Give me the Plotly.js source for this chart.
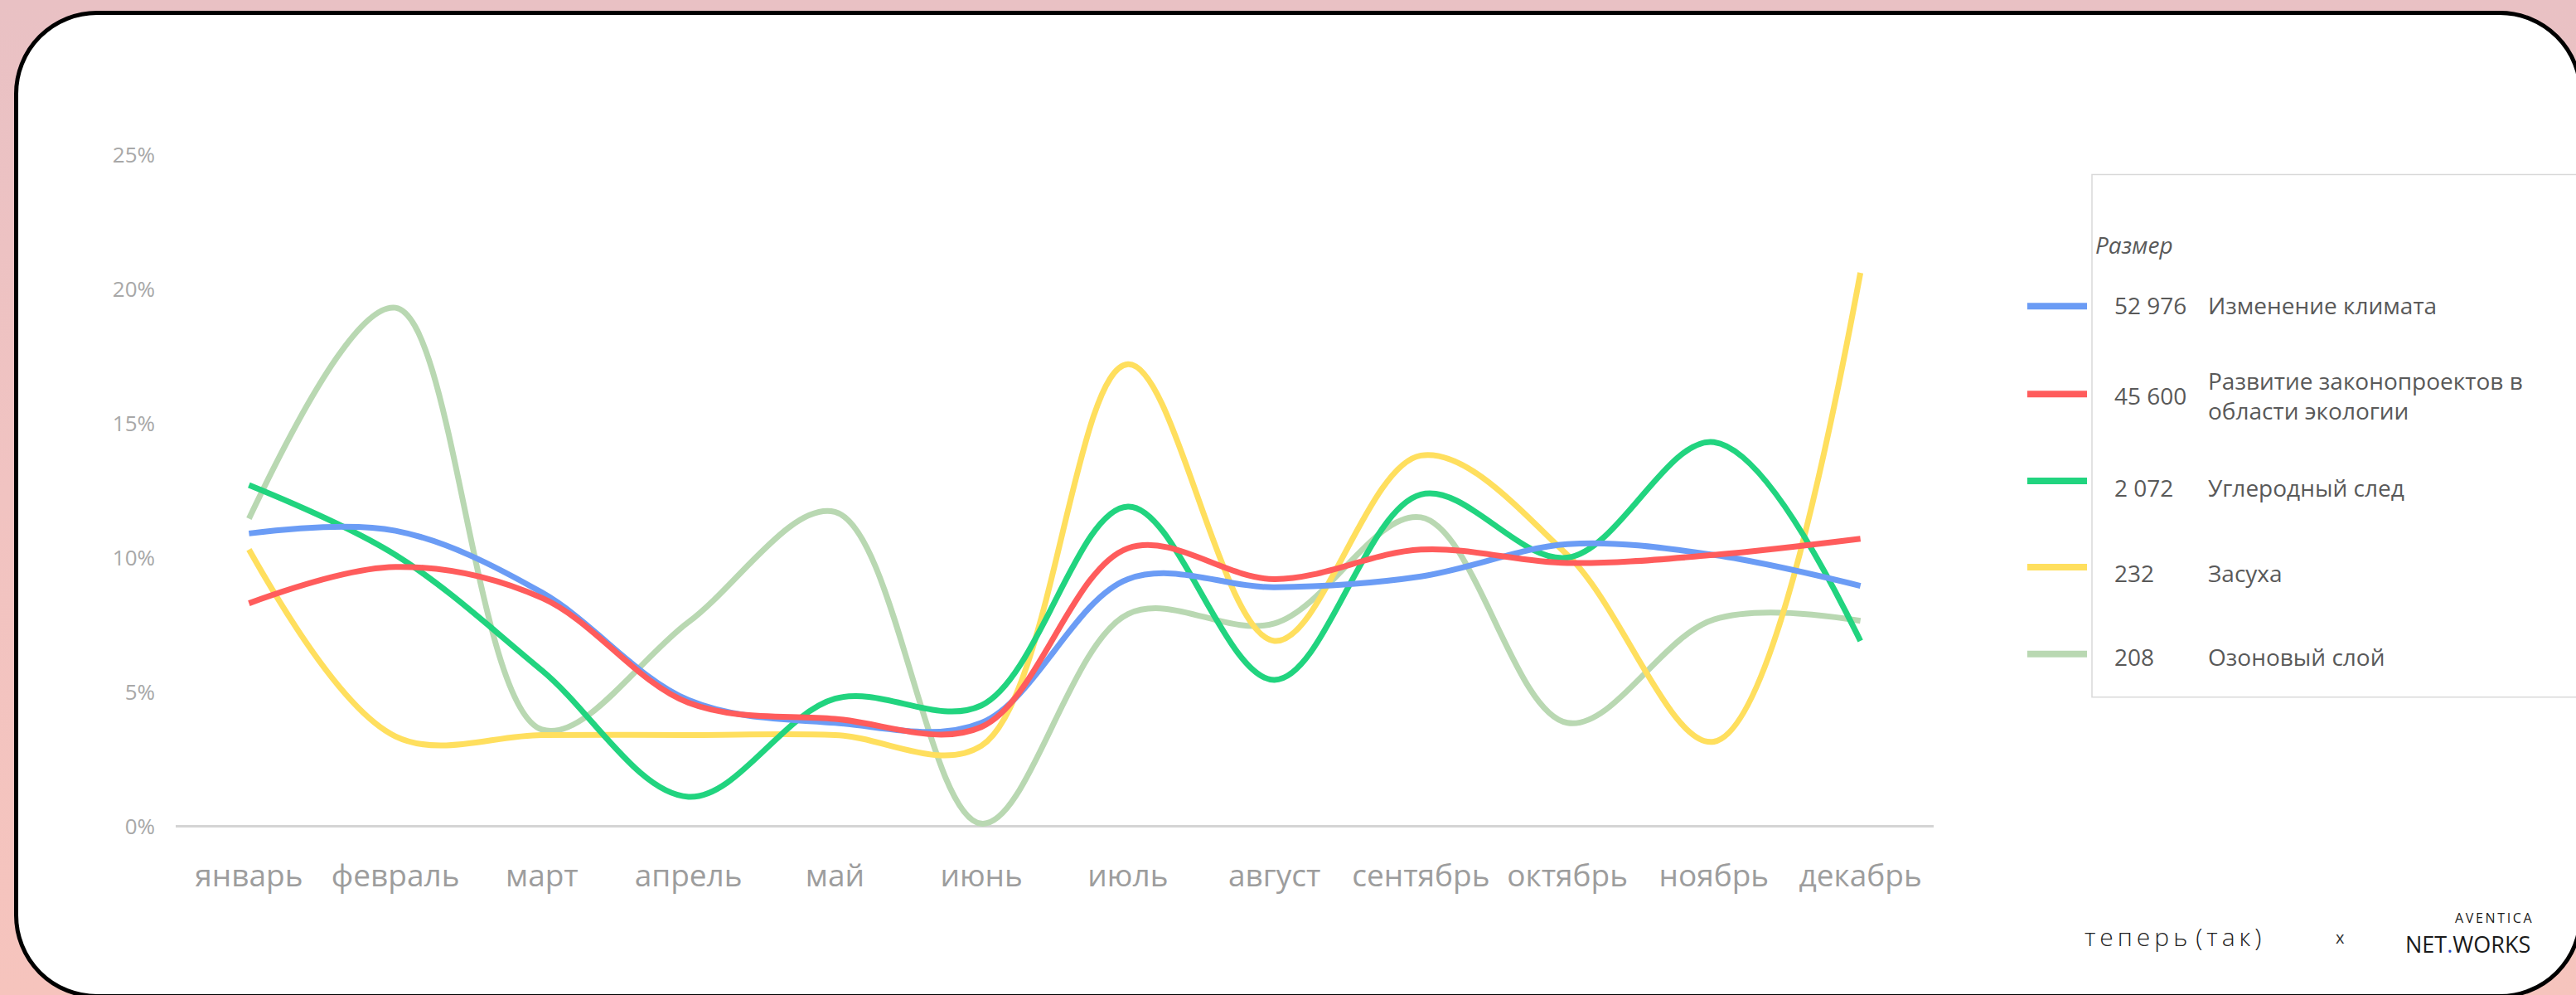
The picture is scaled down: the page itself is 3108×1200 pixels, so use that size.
<!DOCTYPE html>
<html>
<head>
<meta charset="utf-8">
<script src="https://cdn.plot.ly/plotly-3.0.1.min.js"></script>
<style>
  html, body { margin:0; padding:0; width:3108px; height:1200px; overflow:hidden;
    background: linear-gradient(180deg, #e9c1c4 0%, #f1c3c1 50%, #f6c4bd 100%); }
  #frame { position:absolute; left:17px; top:13px; width:3099px; height:1191px; box-sizing:border-box;
    border:5px solid #000; border-radius:100px; background:#fff; }
  #chart { position:absolute; left:0; top:0; width:3108px; height:1200px; }
</style>
</head>
<body>
<div id="frame"></div>
<div id="chart"></div>
<script>
// ---- data ----
const months = ['январь','февраль','март','апрель','май','июнь','июль','август','сентябрь','октябрь','ноябрь','декабрь'];
const seriesNames = ['Изменение климата', 'Развитие законопроектов в<br>области экологии', 'Углеродный след', 'Засуха', 'Озоновый слой'];
const seriesSizes = ['52 976', '45 600', '2 072', '232', '208'];
const climate = [10.9, 11.0, 8.7, 4.7, 3.85, 3.85, 9.2, 8.9, 9.3, 10.5, 10.1, 8.95];
const lawmaking = [8.3, 9.65, 8.5, 4.6, 4.0, 3.7, 10.35, 9.2, 10.3, 9.8, 10.1, 10.7];
const carbon = [12.7, 10.1, 5.8, 1.1, 4.75, 4.5, 11.9, 5.45, 12.35, 10.0, 14.3, 6.9];
const drought = [10.3, 3.35, 3.4, 3.4, 3.4, 3.0, 17.2, 6.9, 13.8, 10.1, 3.15, 20.6];
const ozone = [11.45, 19.3, 3.6, 7.6, 11.7, 0.1, 7.9, 7.55, 11.5, 3.85, 7.7, 7.65];
const yTicks = [0, 5, 10, 15, 20, 25];

// ---- styles ----
const colors = ['#6b9cf5', '#ff5c5c', '#21d47f', '#ffdf5e', '#b9d8b2'];
const allSeries = [climate, lawmaking, carbon, drought, ozone];

const W = 3108, H = 1200;
const L = 212, R = 2333, T = 153.5, B = 1029.5;
const px = x => (x - L) / (R - L);
const py = y => (B - y) / (B - T);

const traces = allSeries.map((vals, i) => ({
  type: 'scatter', mode: 'lines', x: months, y: vals,
  name: seriesNames[i].replace('<br>', ' '),
  line: { color: colors[i], width: 7, shape: 'spline', smoothing: 1 },
  hoverinfo: 'skip'
}));
const order = [4, 3, 2, 0, 1];
const data = order.map(i => traces[i]);

const legendTextColor = '#595959';
const legFont = { family: 'Open Sans, sans-serif', size: 28, color: legendTextColor };
const swatchY = [369, 475, 580, 684, 789];
const textY = [368, 477, 588, 691, 792];

const shapes = [{
  type: 'rect', xref: 'paper', yref: 'paper',
  x0: px(2524), x1: px(3140), y0: py(210), y1: py(841),
  line: { color: '#d9d9d9', width: 1.5 }, fillcolor: 'rgba(0,0,0,0)', layer: 'below'
}];
const annotations = [{
  xref: 'paper', yref: 'paper', x: px(2526), y: py(295), xanchor: 'left', yanchor: 'middle',
  text: '<i>Размер</i>', showarrow: false, font: legFont
}];
seriesNames.forEach((nm, i) => {
  shapes.push({ type: 'line', xref: 'paper', yref: 'paper',
    x0: px(2446), x1: px(2518), y0: py(swatchY[i]), y1: py(swatchY[i]),
    line: { color: colors[i], width: 8 } });
  annotations.push({ xref: 'paper', yref: 'paper', x: px(2549), y: py(textY[i]),
    xanchor: 'left', yanchor: 'middle', text: seriesSizes[i], showarrow: false, font: legFont });
  annotations.push({ xref: 'paper', yref: 'paper', x: px(2662), y: py(textY[i]),
    xanchor: 'left', yanchor: 'middle', align: 'left', text: nm, showarrow: false, font: legFont });
});

// logos
annotations.push({ xref: 'paper', yref: 'paper', x: px(2513), y: py(1130), xanchor: 'left', yanchor: 'middle',
  text: 'т\u2009е\u2009п\u2009е\u2009р\u2009ь\u2009\u2009(\u2009т\u2009а\u2009к\u2009)', showarrow: false,
  font: { family: 'Open Sans, sans-serif', size: 30, color: '#222', weight: 300 } });
annotations.push({ xref: 'paper', yref: 'paper', x: px(2823), y: py(1131), xanchor: 'center', yanchor: 'middle',
  text: 'x', showarrow: false, font: { family: 'Open Sans, sans-serif', size: 20, color: '#333' } });
annotations.push({ xref: 'paper', yref: 'paper', x: px(3057), y: py(1120), xanchor: 'right', yanchor: 'bottom',
  borderpad: 0,
  text: 'A\u2009V\u2009E\u2009N\u2009T\u2009I\u2009C\u2009A', showarrow: false,
  font: { family: 'Open Sans, sans-serif', size: 16, color: '#1a1a1a' } });
annotations.push({ xref: 'paper', yref: 'paper', x: px(3054), y: py(1120), xanchor: 'right', yanchor: 'top',
  borderpad: 0,
  text: 'NET<span style="color:#2446c8">.</span>WORKS', showarrow: false,
  font: { family: 'Open Sans, sans-serif', size: 27, color: '#1a1a1a' } });

const layout = {
  width: W, height: H,
  paper_bgcolor: 'rgba(0,0,0,0)', plot_bgcolor: 'rgba(0,0,0,0)',
  margin: { l: L, r: W - R, t: T, b: H - B, pad: 0 },
  showlegend: false,
  xaxis: {
    type: 'category', range: [-0.5, 11.5], showgrid: false, zeroline: false, showline: false,
    ticks: '', tickfont: { family: 'Open Sans, sans-serif', size: 37, color: '#9d9d9d' },
    ticklabelstandoff: 2, fixedrange: true
  },
  yaxis: {
    range: [-1, 26], tickvals: yTicks, ticktext: yTicks.map(v => v + '%'),
    showgrid: false, zeroline: true, zerolinecolor: '#d4d4d4', zerolinewidth: 3,
    showline: false, ticks: '',
    tickfont: { family: 'Open Sans, sans-serif', size: 26, color: '#a8a8a8' },
    ticklabelstandoff: 24, fixedrange: true
  },
  shapes: shapes,
  annotations: annotations
};

Plotly.newPlot('chart', data, layout, { staticPlot: true, displayModeBar: false });
</script>
</body>
</html>
